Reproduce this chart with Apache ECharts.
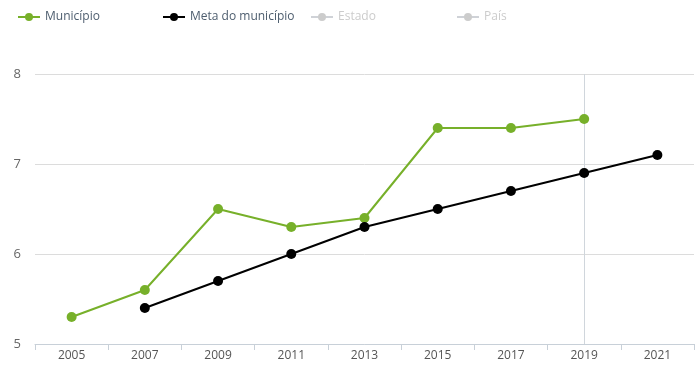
<!DOCTYPE html>
<html><head><meta charset="utf-8">
<script src="https://cdn.jsdelivr.net/npm/echarts@6/dist/echarts.min.js"></script>
<style>html,body{margin:0;padding:0;background:#fff}#c{width:699px;height:373px}</style>
</head><body><div id="c"></div>
<script>
const years = ['2005','2007','2009','2011','2013','2015','2017','2019','2021'];
const municipio = [5.3, 5.6, 6.5, 6.3, 6.4, 7.4, 7.4, 7.5, null];
const meta = [null, 5.4, 5.7, 6.0, 6.3, 6.5, 6.7, 6.9, 7.1];
const estado = [];
const pais = [];
const yTicks = [5, 6, 7, 8];
const highlightYear = '2019';

const chart = echarts.init(document.getElementById('c'));
const legendBase = {top: 6, itemWidth: 22, itemHeight: 10, itemGap: 0,
  textStyle: {fontFamily: 'Open Sans', fontSize: 12, color: '#4d5d6e'},
  inactiveColor: '#cccccc', selectedMode: true};
chart.setOption({
  animation: false,
  legend: [
    Object.assign({}, legendBase, {left: 12, data: ['Município']}),
    Object.assign({}, legendBase, {left: 157, data: ['Meta do município']}),
    Object.assign({}, legendBase, {left: 305, data: ['Estado']}),
    Object.assign({}, legendBase, {left: 451, data: ['País']})
  ],
  grid: {left: 35, right: 5, top: 74, bottom: 29},
  xAxis: {
    type: 'category', data: years, boundaryGap: true,
    axisLine: {lineStyle: {color: '#c8d0d8'}},
    axisTick: {show: true, length: 6, lineStyle: {color: '#c8d0d8'}},
    axisLabel: {color: '#555', fontFamily: 'Open Sans', fontSize: 12, margin: 6},
    splitLine: {show: false}
  },
  yAxis: {
    type: 'value', min: yTicks[0], max: yTicks[yTicks.length-1], interval: 1,
    axisLine: {show: false}, axisTick: {show: false},
    axisLabel: {color: '#666', fontFamily: 'Open Sans', fontSize: 13, margin: 14},
    splitLine: {lineStyle: {color: '#dcdcdc', width: 1}}
  },
  series: [
    {name: 'Município', type: 'line', data: municipio, color: '#77b02a', zlevel: 1,
     symbol: 'circle', symbolSize: 10, lineStyle: {width: 2}},
    {name: 'Meta do município', type: 'line', data: meta, color: '#000000', zlevel: 1,
     symbol: 'circle', symbolSize: 10, lineStyle: {width: 2}},
    {name: 'Estado', type: 'line', data: estado, color: '#999999', symbol: 'circle', symbolSize: 9},
    {name: 'País', type: 'line', data: pais, color: '#999999', symbol: 'circle', symbolSize: 9},
    {name: 'cursor', type: 'line', data: [], zlevel: 0,
     markLine: {silent: true, symbol: 'none', label: {show: false},
       lineStyle: {color: '#d0d6dc', type: 'solid', width: 1},
       data: [{xAxis: highlightYear}]}}
  ]
});
chart.dispatchAction({type: 'legendUnSelect', name: 'Estado'});
chart.dispatchAction({type: 'legendUnSelect', name: 'País'});
</script></body></html>
